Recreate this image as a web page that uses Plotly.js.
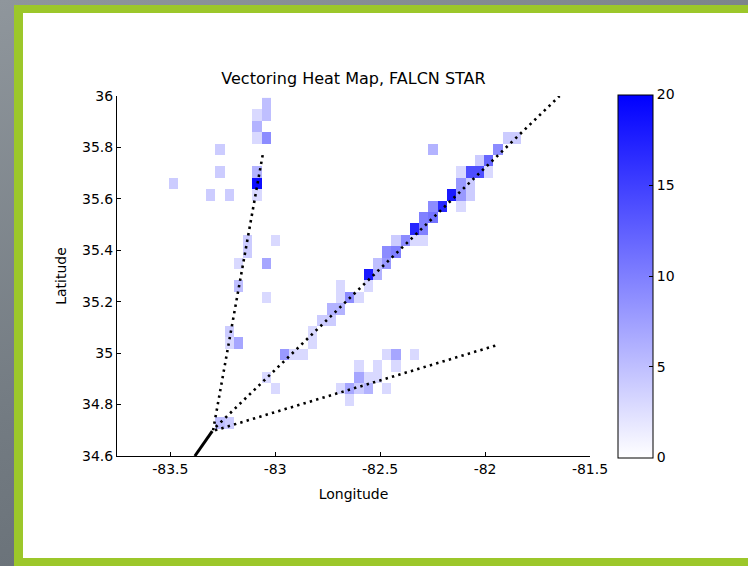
<!DOCTYPE html>
<html>
<head>
<meta charset="utf-8">
<script src="https://cdn.plot.ly/plotly-3.0.1.min.js"></script>
<style>
  html, body { margin: 0; padding: 0; width: 748px; height: 566px; overflow: hidden; }
  body { background: linear-gradient(160deg, #8f969c 0%, #737b82 50%, #5d656c 100%); position: relative; }
  #frame { position: absolute; left: 14px; top: 5px; width: 734px; height: 561px; box-sizing: border-box;
           border-style: solid; border-color: #9cc72a; border-width: 8px 0 8px 9px; background: #ffffff; }
  #cover { position: absolute; left: 690px; top: 13px; width: 80px; height: 545px; background: #ffffff; }
  #chart { position: absolute; left: 0; top: 0; width: 748px; height: 566px; }
</style>
</head>
<body>
<div id="frame"></div>
<div id="cover"></div>
<div id="chart"></div>
<script>
// ---- Heat-map bins (longitude/latitude grid) ----
const lonEdge0 = -83.771;   // west edge of bin column 0
const binW = 0.0442;        // bin width, degrees longitude
const latEdge0 = 34.575;    // south edge of bin row 0
const binH = 0.0443;        // bin height, degrees latitude
const nCols = 45;
const nRows = 32;

// occupied bins: column index, row index, count of vectored flights
const binCol = [
  42,43,41,39,40,37,38,39,40,37,38,36,37,38,34,35,37,33,34,32,33,30,31,32,33,29,30,28,29,27,28,27,24,24,25,26,23,24,22,23,21,21,18,19,20,16,17,11,12,
  16,16,15,15,15,16,11,34,11,15,15,15,6,10,12,14,14,17,16,13,13,16,12,12,13,
  29,30,32,26,28,30,26,27,28,24,25,26,27,29,25
];
const binRow = [
  28,28,27,26,26,25,25,25,25,24,24,23,23,23,22,22,22,21,21,20,20,19,19,19,19,18,18,17,17,16,16,15,15,14,14,14,13,13,12,12,11,10,9,9,9,7,6,3,3,
  31,30,30,29,28,28,27,27,25,25,24,23,24,23,23,19,18,19,17,17,15,14,11,10,10,
  9,9,9,8,8,8,7,7,7,6,6,6,6,6,5
];
const binCount = [
  4,4,9,4,12,3,14,14,3,8,4,18,8,4,9,17,3,10,11,17,10,4,9,3,3,9,10,5,8,18,6,3,3,3,9,3,6,6,4,4,3,3,8,3,3,3,3,5,4,
  5,5,3,6,3,9,4,6,4,6,19,3,4,4,4,4,4,3,7,3,5,3,4,3,7,
  3,7,3,3,3,3,7,3,3,3,7,4,6,3,3
];

// ---- Vectoring routes (dotted) and common stem (solid) ----
const stemLon = [-83.383, -83.300];
const stemLat = [34.600, 34.697];
const route1Lon = [-83.296, -83.059];
const route1Lat = [34.700, 35.774];
const route2Lon = [-83.283, -81.645];
const route2Lat = [34.713, 36.000];
const route3Lon = [-83.287, -81.944];
const route3Lat = [34.700, 35.031];

// ---- Axis ticks ----
const xTickVals = [-83.5, -83, -82.5, -82, -81.5];
const xTickText = ['-83.5', '-83', '-82.5', '-82', '-81.5'];
const yTickVals = [34.6, 34.8, 35, 35.2, 35.4, 35.6, 35.8, 36];
const yTickText = ['34.6', '34.8', '35', '35.2', '35.4', '35.6', '35.8', '36'];
const cTickVals = [0, 5, 10, 15, 20];

// build z matrix
const z = [];
for (let r = 0; r < nRows; r++) { z.push(new Array(nCols).fill(null)); }
for (let i = 0; i < binCol.length; i++) { z[binRow[i]][binCol[i]] = binCount[i]; }

const FONT = 'DejaVu Sans, Arial, sans-serif';

const heat = {
  type: 'heatmap',
  z: z,
  x0: lonEdge0 + binW / 2, dx: binW,
  y0: latEdge0 + binH / 2, dy: binH,
  zmin: 0, zmax: 20,
  colorscale: [[0, '#ffffff'], [1, '#0000ff']],
  hoverongaps: false,
  colorbar: {
    x: 1.059, xanchor: 'left', xref: 'paper',
    y: 0.5, yanchor: 'middle', yref: 'paper',
    thicknessmode: 'pixels', thickness: 35,
    lenmode: 'pixels', len: 363,
    xpad: 0, ypad: 0,
    outlinewidth: 1, outlinecolor: '#000000',
    tickmode: 'array', tickvals: cTickVals,
    ticks: 'inside', ticklen: 4, tickcolor: '#000000',
    tickfont: { family: FONT, size: 14, color: '#000000' },
    ticklabelpad: 2
  }
};

function route(lon, lat, solid) {
  return {
    type: 'scatter', mode: 'lines', x: lon, y: lat,
    line: { color: '#000000', width: solid ? 3 : 2.6, dash: solid ? 'solid' : '2.4px,4.2px' },
    hoverinfo: 'skip', showlegend: false
  };
}

const data = [
  heat,
  route(route1Lon, route1Lat, false),
  route(route2Lon, route2Lat, false),
  route(route3Lon, route3Lat, false),
  route(stemLon, stemLat, true)
];

const layout = {
  width: 748, height: 566,
  paper_bgcolor: 'rgba(0,0,0,0)',
  plot_bgcolor: '#ffffff',
  margin: { l: 117, r: 158, t: 96, b: 110, pad: 0 },
  font: { family: FONT, size: 14, color: '#000000' },
  showlegend: false,
  title: {
    text: 'Vectoring Heat Map, FALCN STAR',
    font: { family: FONT, size: 16, color: '#000000' },
    x: 0.5, xref: 'paper', xanchor: 'center',
    y: 1 - 78 / 566, yref: 'container', yanchor: 'middle'
  },
  xaxis: {
    range: [-83.754, -81.5],
    showgrid: false, zeroline: false,
    showline: true, linecolor: '#000000', linewidth: 1,
    ticks: 'inside', ticklen: 4, tickcolor: '#000000',
    tickmode: 'array', tickvals: xTickVals, ticktext: xTickText,
    tickfont: { family: FONT, size: 14, color: '#000000' },
    title: { text: 'Longitude', font: { family: FONT, size: 14, color: '#000000' }, standoff: 13 },
    automargin: false
  },
  yaxis: {
    range: [34.6, 36],
    showgrid: false, zeroline: false,
    showline: true, linecolor: '#000000', linewidth: 1,
    ticks: 'inside', ticklen: 4, tickcolor: '#000000',
    tickmode: 'array', tickvals: yTickVals, ticktext: yTickText,
    tickfont: { family: FONT, size: 14, color: '#000000' },
    title: { text: 'Latitude', font: { family: FONT, size: 14, color: '#000000' }, standoff: 12 },
    automargin: false
  }
};

Plotly.newPlot('chart', data, layout, { displayModeBar: false, staticPlot: true });
</script>
</body>
</html>
